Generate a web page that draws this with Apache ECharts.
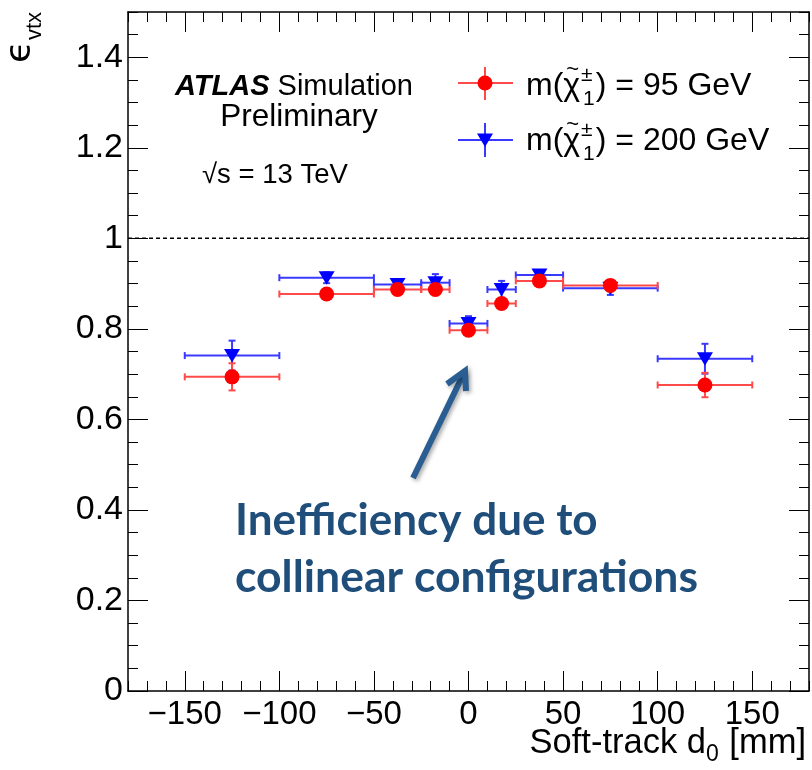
<!DOCTYPE html>
<html>
<head>
<meta charset="utf-8">
<script src="https://cdn.jsdelivr.net/npm/echarts@6/dist/echarts.min.js"></script>
<style>html,body{margin:0;padding:0;background:#fff;}#c{width:812px;height:770px;}</style>
</head>
<body>
<div id="c"></div>
<script>
// ---------- data ----------
const binLow    = [-150, -100, -50, -25, -10, 10, 25, 50, 100];
const binHigh   = [-100, -50, -25, -10, 10, 25, 50, 100, 150];
const binCenter = [-125, -75, -37.5, -17.5, 0, 17.5, 37.5, 75, 125];
const eff95     = [0.694, 0.877, 0.887, 0.887, 0.797, 0.856, 0.906, 0.896, 0.676];
const err95     = [0.030, 0.010, 0.010, 0.010, 0.012, 0.010, 0.008, 0.012, 0.027];
const eff200    = [0.741, 0.913, 0.898, 0.902, 0.812, 0.887, 0.919, 0.890, 0.734];
const err200    = [0.033, 0.012, 0.012, 0.019, 0.016, 0.019, 0.010, 0.015, 0.033];
const xTickLabels = [-150, -100, -50, 0, 50, 100, 150];
const yTickLabels = [0, 0.2, 0.4, 0.6, 0.8, 1.0, 1.2, 1.4];
const refLevel = [1];

// ---------- helpers ----------
const FAM = 'Liberation Sans';
const cv = document.createElement('canvas');
const cx = cv.getContext('2d');
function tw(t, fs, w, st, fam) {
  cx.font = (st || 'normal') + ' ' + (w || 'normal') + ' ' + fs + 'px "' + (fam || FAM) + '"';
  return cx.measureText(t).width;
}
function txt(t, x, base, fs, o) {
  o = o || {};
  const mid = o.mid != null ? o.mid : 0.3465;
  return {
    type: 'text', silent: true, z: 50,
    x: x, y: base - mid * fs,
    style: {
      text: t, fontSize: fs, fontFamily: o.fam || FAM, fontWeight: o.w || 'normal',
      fontStyle: o.st || 'normal', fill: o.fill || '#000', align: o.align || 'left',
      verticalAlign: 'middle'
    }
  };
}
// legend label m(chi~_1^±) = ... GeV
function chiLabel(x0, base, tail) {
  const fs = 32, fss = 21;
  const els = [];
  let x = x0;
  els.push(txt('m(', x, base, fs)); x += tw('m(', fs);
  const chiW = tw('χ', fs);
  els.push(txt('χ', x, base, fs));
  els.push(txt('~', x + chiW / 2 + 1, base - 19, 22, {align: 'center'}));
  x += chiW + 1;
  els.push(txt('±', x, base - 15, fss));
  els.push(txt('1', x + 2, base + 9, fss));
  x += Math.max(tw('±', fss), tw('1', fss) + 2) + 1;
  els.push(txt(')' + tail, x, base, fs));
  return els;
}

const cRed = '#ff0000', cBlue = '#0000ff';
const cRedL = '#ff4a4a', cBlueL = '#3a3aff';

function makeRender(lineColor, markColor, marker) {
  return function (params, api) {
    const c = api.value(0), xl = api.value(1), xh = api.value(2), y = api.value(3), e = api.value(4);
    const pL = api.coord([xl, y]), pH = api.coord([xh, y]), pC = api.coord([c, y]);
    const pT = api.coord([c, y + e]), pB = api.coord([c, y - e]);
    const cap = 3.5;
    const ls = {stroke: lineColor, lineWidth: 2};
    const kids = [
      {type: 'line', shape: {x1: pL[0], y1: pL[1], x2: pH[0], y2: pH[1]}, style: ls},
      {type: 'line', shape: {x1: pL[0], y1: pL[1] - cap, x2: pL[0], y2: pL[1] + cap}, style: ls},
      {type: 'line', shape: {x1: pH[0], y1: pH[1] - cap, x2: pH[0], y2: pH[1] + cap}, style: ls},
      {type: 'line', shape: {x1: pT[0], y1: pT[1], x2: pB[0], y2: pB[1]}, style: ls},
      {type: 'line', shape: {x1: pT[0] - cap, y1: pT[1], x2: pT[0] + cap, y2: pT[1]}, style: ls},
      {type: 'line', shape: {x1: pB[0] - cap, y1: pB[1], x2: pB[0] + cap, y2: pB[1]}, style: ls}
    ];
    if (marker === 'circle') {
      kids.push({type: 'circle', shape: {cx: pC[0], cy: pC[1], r: 7.5}, style: {fill: markColor}});
    } else {
      kids.push({type: 'polygon', shape: {points: [[pC[0] - 8, pC[1] - 6.5], [pC[0] + 8, pC[1] - 6.5], [pC[0], pC[1] + 7]]}, style: {fill: markColor}});
    }
    return {type: 'group', children: kids};
  };
}
const d95 = binCenter.map((c, i) => [c, binLow[i], binHigh[i], eff95[i], err95[i]]);
const d200 = binCenter.map((c, i) => [c, binLow[i], binHigh[i], eff200[i], err200[i]]);

const xFmt = v => v < 0 ? '\u2212' + Math.abs(v) : String(v);
const yFmt = v => Math.abs(v) < 1e-9 ? '0' : (Math.abs(v - 1) < 1e-9 ? '1' : v.toFixed(1));
const axLine = {show: true, onZero: false, lineStyle: {color: '#000', width: 1.5}};
const noLine = {show: false, onZero: false};
const tickStyle = {color: '#000', width: 1};
function xAx(pos, major, labels) {
  return {
    type: 'value', min: -180, max: 180, interval: 10, position: pos,
    axisLine: major ? noLine : axLine,
    axisTick: major ? {show: true, inside: true, length: 20, customValues: xTickLabels, lineStyle: tickStyle}
                    : {show: true, inside: true, length: 10, lineStyle: tickStyle},
    axisLabel: labels ? {show: true, customValues: xTickLabels, formatter: xFmt, fontSize: 33, fontFamily: FAM, color: '#000', margin: 7}
                      : {show: false},
    splitLine: {show: false}
  };
}
function yAx(pos, major, labels) {
  return {
    type: 'value', min: 0, max: 1.5, interval: 0.05, position: pos,
    axisLine: major ? noLine : axLine,
    axisTick: major ? {show: true, inside: true, length: 20, customValues: yTickLabels, lineStyle: tickStyle}
                    : {show: true, inside: true, length: 10, lineStyle: tickStyle},
    axisLabel: labels ? {show: true, customValues: yTickLabels, formatter: yFmt, fontSize: 34, fontFamily: FAM, color: '#000', margin: 5}
                      : {show: false},
    splitLine: {show: false}
  };
}

// ---------- graphics (texts, legend, annotation) ----------
const g = [];
// y title (rotated)
g.push(Object.assign(txt('ϵ', 21, 0, 36, {fam: 'DejaVu Sans'}), {x: 21, y: 63, rotation: Math.PI / 2}));
g.push(Object.assign(txt('vtx', 34, 0, 22), {x: 35, y: 40, rotation: Math.PI / 2}));
// x title
(function () {
  const fs = 34.5, fss = 23, base = 755;
  const w1 = tw('Soft-track d', fs), w2 = tw('0', fss), w3 = tw(' [mm]', fs);
  let x = 806 - (w1 + w2 + w3 + 1);
  g.push(txt('Soft-track d', x, base, fs)); x += w1;
  g.push(txt('0', x, base + 8, fss)); x += w2 + 1;
  g.push(txt(' [mm]', x, base, fs));
})();
// ATLAS label
(function () {
  const fs = 29;
  const wA = tw('ATLAS', fs, 'bold', 'italic');
  g.push(txt('ATLAS', 175, 97, fs, {w: 'bold', st: 'italic'}));
  g.push(txt(' Simulation', 175 + wA, 97, fs));
  g.push(txt('Preliminary', 299, 128, 31.5, {align: 'center'}));
  g.push(txt('√s = 13 TeV', 202, 185, 27.5));
})();
// legend
g.push({type: 'line', silent: true, shape: {x1: 458, y1: 83, x2: 513, y2: 83}, style: {stroke: cRedL, lineWidth: 2}});
g.push({type: 'line', silent: true, shape: {x1: 485, y1: 67, x2: 485, y2: 100}, style: {stroke: cRedL, lineWidth: 2}});
g.push({type: 'circle', silent: true, shape: {cx: 485, cy: 83, r: 7.5}, style: {fill: cRed}});
g.push({type: 'line', silent: true, shape: {x1: 458, y1: 140, x2: 513, y2: 140}, style: {stroke: cBlueL, lineWidth: 2}});
g.push({type: 'line', silent: true, shape: {x1: 485, y1: 123, x2: 485, y2: 157}, style: {stroke: cBlueL, lineWidth: 2}});
g.push({type: 'polygon', silent: true, shape: {points: [[477, 133.5], [493, 133.5], [485, 147]]}, style: {fill: cBlue}});
chiLabel(526, 97, ' = 95 GeV').forEach(e => g.push(e));
chiLabel(526, 152, ' = 200 GeV').forEach(e => g.push(e));
// annotation
const annColor = '#1f4e7a', arrowColor = '#2a5e92';
g.push(txt('Inefficiency due to', 235, 538, 44, {fam: 'Lato', w: 'bold', fill: annColor, mid: 0.387}));
g.push(txt('collinear configurations', 235, 595, 44.5, {fam: 'Lato', w: 'bold', fill: annColor, mid: 0.387}));
const arrowStyle = {stroke: arrowColor, lineWidth: 6, fill: null, lineJoin: 'miter', shadowBlur: 4, shadowOffsetX: 2, shadowOffsetY: 2, shadowColor: 'rgba(0,0,0,0.35)'};
g.push({type: 'polyline', silent: true, z: 40, shape: {points: [[413, 478], [464, 373]]}, style: arrowStyle});
g.push({type: 'polyline', silent: true, z: 40, shape: {points: [[447, 384], [465, 371], [466, 391]]}, style: arrowStyle});

const option = {
  animation: false,
  backgroundColor: '#fff',
  grid: {left: 128, right: 3, top: 12, bottom: 79, containLabel: false},
  xAxis: [xAx('bottom', false, true), xAx('bottom', true, false), xAx('top', false, false), xAx('top', true, false)],
  yAxis: [yAx('left', false, true), yAx('left', true, false), yAx('right', false, false), yAx('right', true, false)],
  series: [
    {
      type: 'line', xAxisIndex: 0, yAxisIndex: 0, symbol: 'none', silent: true,
      data: [[-180, refLevel[0]], [180, refLevel[0]]],
      lineStyle: {color: '#000', width: 1.5, type: [4, 3]}, z: 1
    },
    {type: 'custom', name: 'm200', xAxisIndex: 0, yAxisIndex: 0, renderItem: makeRender(cBlueL, cBlue, 'tri'), data: d200, z: 3, clip: false},
    {type: 'custom', name: 'm95', xAxisIndex: 0, yAxisIndex: 0, renderItem: makeRender(cRedL, cRed, 'circle'), data: d95, z: 4, clip: false}
  ],
  graphic: g
};
const chart = echarts.init(document.getElementById('c'));
chart.setOption(option);
</script>
</body>
</html>
